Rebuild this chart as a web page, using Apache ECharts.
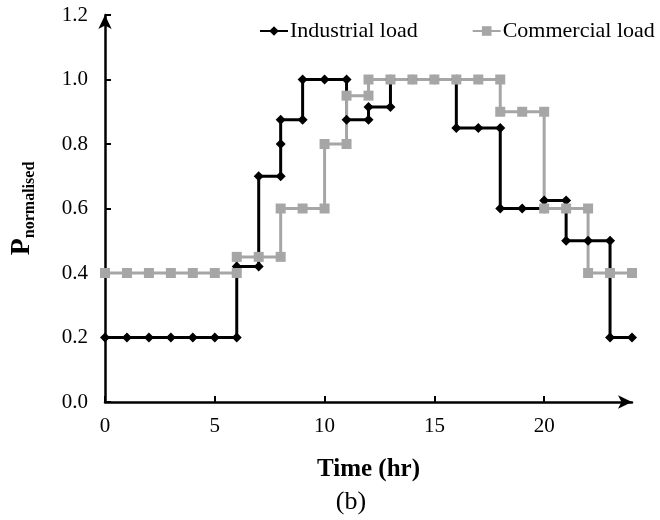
<!DOCTYPE html>
<html>
<head>
<meta charset="utf-8">
<script src="https://cdn.jsdelivr.net/npm/echarts@6/dist/echarts.min.js"></script>
<style>
  html, body { margin: 0; padding: 0; background: #fff; }
  #main { width: 660px; height: 520px; }
</style>
</head>
<body>
<div id="main"></div>
<script>
// step points (hour, normalised power) - duplicate hours make the vertical steps
var industrialHours = [0, 1, 2, 3, 4, 5, 6, 6, 7, 7, 8, 8, 8, 9, 9, 10, 11, 11, 12, 12, 13, 13, 14, 15, 16, 16, 17, 18, 18, 19, 20, 20, 21, 21, 22, 23, 23, 24];
var industrialLoad = [0.2, 0.2, 0.2, 0.2, 0.2, 0.2, 0.2, 0.42, 0.42, 0.7, 0.7, 0.8, 0.875, 0.875, 1, 1, 1, 0.875, 0.875, 0.915, 0.915, 1, 1, 1, 1, 0.85, 0.85, 0.85, 0.6, 0.6, 0.6, 0.625, 0.625, 0.5, 0.5, 0.5, 0.2, 0.2];

var commercialHours = [0, 1, 2, 3, 4, 5, 6, 6, 7, 8, 8, 9, 10, 10, 11, 11, 12, 12, 13, 14, 15, 16, 17, 18, 18, 19, 20, 20, 21, 22, 22, 23, 24];
var commercialLoad = [0.4, 0.4, 0.4, 0.4, 0.4, 0.4, 0.4, 0.45, 0.45, 0.45, 0.6, 0.6, 0.6, 0.8, 0.8, 0.95, 0.95, 1, 1, 1, 1, 1, 1, 1, 0.9, 0.9, 0.9, 0.6, 0.6, 0.6, 0.4, 0.4, 0.4];

var xTicks = [0, 5, 10, 15, 20];

function pairs(xs, ys) {
  return xs.map(function (x, i) { return [x, ys[i]]; });
}

var font = '"Liberation Serif", "Times New Roman", serif';
var chartDom = document.getElementById('main');
var myChart = echarts.init(chartDom);
var option;

option = {
  animation: false,
  backgroundColor: '#fff',
  textStyle: { fontFamily: font, color: '#000' },
  title: {
    text: '(b)',
    left: 346,
    top: 484,
    textAlign: 'center',
    textStyle: { fontFamily: font, fontSize: 26, fontWeight: 'normal', color: '#000' }
  },
  legend: {
    left: 254,
    top: 15,
    width: 420,
    itemGap: 54,
    itemWidth: 28,
    itemHeight: 12,
    textStyle: { fontFamily: font, fontSize: 22, color: '#000', padding: [0, 0, 0, -3] },
    data: ['Industrial load', 'Commercial load']
  },
  grid: { left: 105, right: 28, top: 15, bottom: 118, outerBoundsMode: 'none' },
  xAxis: {
    type: 'value',
    min: 0,
    max: 24,
    interval: 5,
    name: 'Time (hr)',
    nameLocation: 'middle',
    nameGap: 55,
    nameTextStyle: { fontFamily: font, fontSize: 25, fontWeight: 'bold', color: '#000' },
    splitLine: { show: false },
    axisLine: {
      onZero: false,
      symbol: ['none', 'arrow'],
      symbolSize: [10, 14],
      lineStyle: { color: '#000', width: 2.5 }
    },
    axisTick: { inside: true, length: 6, lineStyle: { color: '#000', width: 2 } },
    axisLabel: {
      margin: 14,
      showMaxLabel: false,
      fontFamily: font,
      fontSize: 21,
      color: '#000',
      formatter: function (v) { return xTicks.indexOf(v) >= 0 ? String(v) : ''; }
    }
  },
  yAxis: {
    type: 'value',
    min: 0,
    max: 1.2,
    interval: 0.2,
    name: '{p|P}{s|normalised}',
    nameLocation: 'middle',
    nameGap: 67,
    nameTextStyle: {
      rich: {
        p: { fontFamily: font, fontSize: 28, fontWeight: 'bold', color: '#000', lineHeight: 32 },
        s: { fontFamily: font, fontSize: 16, fontWeight: 'bold', color: '#000', verticalAlign: 'bottom', lineHeight: 32, padding: [12, 0, 0, 0] }
      }
    },
    splitLine: { show: false },
    axisLine: {
      onZero: false,
      symbol: ['none', 'arrow'],
      symbolSize: [10, 14],
      lineStyle: { color: '#000', width: 2.5 }
    },
    axisTick: { inside: true, length: 6, lineStyle: { color: '#000', width: 2 } },
    axisLabel: {
      margin: 17,
      fontFamily: font,
      fontSize: 21,
      color: '#000',
      formatter: function (v) { return v.toFixed(1); }
    }
  },
  series: [
    {
      name: 'Industrial load',
      type: 'line',
      data: pairs(industrialHours, industrialLoad),
      symbol: 'diamond',
      symbolSize: 10,
      color: '#000',
      lineStyle: { color: '#000', width: 3 },
      itemStyle: { color: '#000' }
    },
    {
      name: 'Commercial load',
      type: 'line',
      data: pairs(commercialHours, commercialLoad),
      symbol: 'rect',
      symbolSize: 10,
      color: '#a6a6a6',
      lineStyle: { color: '#a6a6a6', width: 3 },
      itemStyle: { color: '#a6a6a6' }
    }
  ]
};

option && myChart.setOption(option);
</script>
</body>
</html>
